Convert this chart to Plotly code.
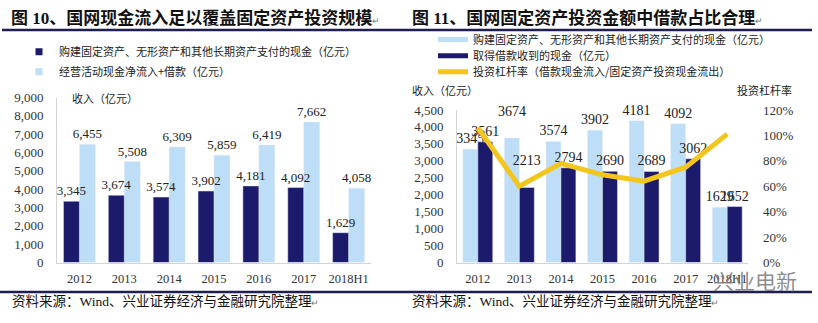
import plotly.graph_objects as go

W, H = 818, 323

years = ["2012", "2013", "2014", "2015", "2016", "2017", "2018H1"]
# Figure 10
capex_left = [3345, 3674, 3574, 3902, 4181, 4092, 1629]
inflow_left = [6455, 5508, 6309, 5859, 6419, 7662, 4058]
# Figure 11
capex_right = [3345, 3674, 3574, 3902, 4181, 4092, 1629]
borrow_right = [3561, 2213, 2794, 2690, 2689, 3062, 1652]
leverage = [1.06, 0.60, 0.78, 0.69, 0.64, 0.75, 1.01]
# labels lifted clear of the leverage line in the original
lifted_right = ["2013"]

name_capex = "购建固定资产、无形资产和其他长期资产支付的现金（亿元）"
name_inflow = "经营活动现金净流入+借款（亿元）"
name_borrow = "取得借款收到的现金（亿元）"
name_lev = "投资杠杆率（借款现金流入/固定资产投资现金流出）"

NAVY = "#1C1B6B"
LIGHT = "#BEDDF6"
YELLOW = "#F2C61C"
RULE = "#1E1E50"
AXIS = "#D4D4D4"
TXT = "#222222"
SERIF = "Liberation Serif, Noto Sans CJK SC"
CJK = "Noto Sans CJK SC"

BW_L = 0.356   # bar width (category units), left chart
BW_R = 0.36    # bar width (category units), right chart


def px(x):
    return x / W


def py(y):
    return 1 - y / H


def lab(v, yr):
    s = str(v)
    return s + "<br><span style='font-size:5px'>\u00a0</span>" if yr in lifted_right else s


fig = go.Figure()

# ---- left chart (light drawn first so dark labels stay on top) ----
fig.add_trace(go.Bar(
    x=years, y=inflow_left, marker_color=LIGHT, name=name_inflow, showlegend=False,
    width=BW_L, offset=0,
    text=[f"{v:,}" for v in inflow_left], textposition="outside", cliponaxis=False,
    constraintext="none", textfont=dict(family=SERIF, size=13, color=TXT),
    xaxis="x", yaxis="y"))
fig.add_trace(go.Bar(
    x=years, y=capex_left, marker_color=NAVY, name=name_capex, showlegend=False,
    width=BW_L, offset=-BW_L,
    text=[f"{v:,}" for v in capex_left], textposition="outside", cliponaxis=False,
    constraintext="none", textfont=dict(family=SERIF, size=13, color=TXT),
    xaxis="x", yaxis="y"))
# legend proxies (left)
fig.add_trace(go.Scatter(x=[None], y=[None], mode="markers", name=name_capex,
                         marker=dict(symbol="square", size=7, color=NAVY),
                         legend="legend", xaxis="x", yaxis="y"))
fig.add_trace(go.Scatter(x=[None], y=[None], mode="markers", name=name_inflow,
                         marker=dict(symbol="square", size=7, color=LIGHT),
                         legend="legend2", xaxis="x", yaxis="y"))

# ---- right chart ----
fig.add_trace(go.Bar(
    x=years, y=capex_right, marker_color=LIGHT, name=name_capex, showlegend=False,
    width=BW_R, offset=-BW_R,
    text=[lab(v, yr) for v, yr in zip(capex_right, years)], textposition="outside",
    cliponaxis=False,
    constraintext="none", textfont=dict(family=SERIF, size=14, color=TXT),
    xaxis="x2", yaxis="y2"))
fig.add_trace(go.Bar(
    x=years, y=borrow_right, marker_color=NAVY, name=name_borrow, showlegend=False,
    width=BW_R, offset=0,
    text=[lab(v, yr) for v, yr in zip(borrow_right, years)], textposition="outside",
    cliponaxis=False,
    constraintext="none", textfont=dict(family=SERIF, size=14, color=TXT),
    xaxis="x2", yaxis="y2"))
fig.add_trace(go.Scatter(
    x=years, y=leverage, mode="lines", name=name_lev, showlegend=False,
    line=dict(color=YELLOW, width=5), xaxis="x2", yaxis="y3"))
# legend proxies (right)
for nm, col, lg in [(name_capex, LIGHT, "legend3"), (name_borrow, NAVY, "legend4"),
                    (name_lev, YELLOW, "legend5")]:
    fig.add_trace(go.Scatter(x=[None], y=[None], mode="lines", name=nm,
                             line=dict(color=col, width=5), legend=lg,
                             xaxis="x2", yaxis="y2"))

tickfont = dict(family=SERIF, size=13, color="#333333")
xtickfont = dict(family=SERIF, size=12.5, color="#333333")


def leg(x, y):
    return dict(x=px(x), y=py(y), xanchor="left", yanchor="middle",
                bgcolor="rgba(0,0,0,0)", font=dict(family=CJK, size=11, color=TXT),
                itemwidth=30)


fig.update_layout(
    width=W, height=H, margin=dict(l=0, r=0, t=0, b=0),
    paper_bgcolor="white", plot_bgcolor="white",
    barmode="overlay",
    font=dict(family=SERIF, color=TXT),
    xaxis=dict(domain=[px(57), px(371)], type="category", anchor="y",
               showline=True, linecolor=AXIS, linewidth=1, ticks="",
               tickfont=xtickfont, ticklabelstandoff=4, showgrid=False),
    yaxis=dict(domain=[py(268), py(95)], range=[0, 9000], dtick=1000, tickformat=",",
               anchor="x", showline=True, linecolor=AXIS, linewidth=1, showgrid=False,
               zeroline=False, ticks="", tickfont=tickfont, ticklabelstandoff=10),
    xaxis2=dict(domain=[px(457), px(748)], type="category", anchor="y2",
                showline=True, linecolor=AXIS, linewidth=1, ticks="",
                tickfont=xtickfont, ticklabelstandoff=4, showgrid=False),
    yaxis2=dict(domain=[py(268), py(108)], range=[0, 4500], dtick=500, tickformat=",",
                anchor="x2", showline=True, linecolor=AXIS, linewidth=1, showgrid=False,
                zeroline=False, ticks="", tickfont=tickfont, ticklabelstandoff=10),
    yaxis3=dict(overlaying="y2", side="right", anchor="x2", range=[0, 1.2], dtick=0.2,
                tickformat=".0%", showline=False, showgrid=False, zeroline=False,
                ticks="", tickfont=tickfont, ticklabelstandoff=14),
    legend=leg(19, 47),
    legend2=leg(19, 68),
    legend3=leg(433, 34),
    legend4=leg(433, 51),
    legend5=leg(433, 68),
)

ret = "<span style='font-size:9px;color:#777'>↵</span>"
ann = [
    dict(x=px(9), y=py(12), text="<b>图 10、国网现金流入足以覆盖固定资产投资规模</b>" + ret,
         font=dict(family=SERIF, size=17, color="#111")),
    dict(x=px(410), y=py(12), text="<b>图 11、国网固定资产投资金额中借款占比合理</b>" + ret,
         font=dict(family=SERIF, size=17, color="#111")),
    dict(x=px(10), y=py(309), text="资料来源：Wind、兴业证券经济与金融研究院整理" + ret,
         font=dict(family=SERIF, size=13.5, color="#111")),
    dict(x=px(410), y=py(309), text="资料来源：Wind、兴业证券经济与金融研究院整理" + ret,
         font=dict(family=SERIF, size=13.5, color="#111")),
    dict(x=px(70), y=py(95), text="收入（亿元）", font=dict(family=CJK, size=11, color=TXT)),
    dict(x=px(410), y=py(87), text="收入（亿元）", font=dict(family=CJK, size=11, color=TXT)),
    dict(x=px(735), y=py(87), text="投资杠杆率", font=dict(family=CJK, size=11, color=TXT)),
    dict(x=px(711), y=py(286), text="兴业电新", font=dict(family=CJK, size=21, color="rgba(120,120,120,0.85)")),
]
for a in ann:
    a.update(xref="paper", yref="paper", xanchor="left", yanchor="middle", showarrow=False)
fig.update_layout(annotations=ann)

fig.update_layout(shapes=[
    dict(type="line", xref="paper", yref="paper", x0=px(2), x1=px(812), y0=py(24), y1=py(24),
         line=dict(color=RULE, width=2.5)),
    dict(type="line", xref="paper", yref="paper", x0=px(0), x1=px(812), y0=py(299), y1=py(299),
         line=dict(color=RULE, width=2.5)),
])

fig.write_html("out.html")
